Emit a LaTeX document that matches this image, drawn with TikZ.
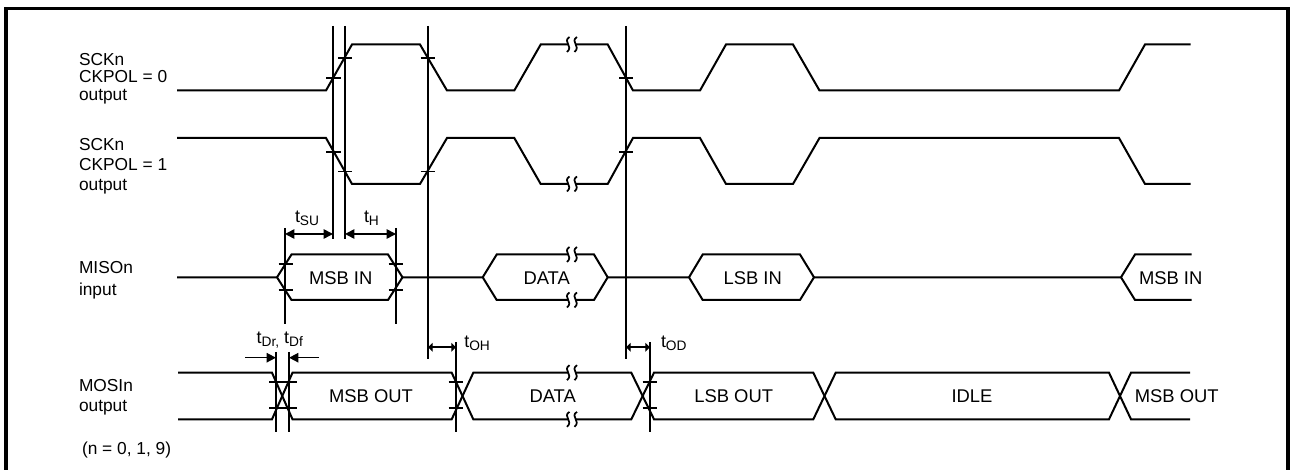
\documentclass[tikz,border=0pt]{standalone}
\usepackage{fontspec}
\setmainfont{Liberation Sans}
\usetikzlibrary{arrows.meta}
\newcommand{\tname}[1]{t\raisebox{-.3ex}{\fontsize{10.3}{11}\selectfont #1}}

\begin{document}
\begin{tikzpicture}[
      x=.75pt,y=-.75pt,
      every node/.style={inner sep=0pt,outer sep=0pt},
      siglabel/.style={font=\fontsize{13}{15}\selectfont,anchor=base west},
      buslabel/.style={font=\fontsize{13.8}{15}\selectfont,anchor=base},
      timelabel/.style={font=\fontsize{13.4}{15}\selectfont,anchor=base west},
      frameln/.style={line width=2.3pt,miter limit=10},
      sigln/.style={line width=1.5pt,line join=miter},
      refln/.style={line width=1.5pt},
      tickln/.style={line width=1.3pt},
      dimbig/.style={{Stealth[length=7pt,width=7pt,inset=0pt]}-{Stealth[length=7pt,width=7pt,inset=0pt]},line width=1.2pt},
      dimsmall/.style={{Stealth[length=3.5pt,width=6.5pt,inset=0pt]}-{Stealth[length=3.5pt,width=6.5pt,inset=0pt]},line width=1.2pt},
      dimin/.style={-{Stealth[length=7pt,width=7pt,inset=0pt]},line width=1.2pt},
      wavebreak/.pic={
        \fill[white] (-3.6,-6) rectangle (3.2,6);
        \draw[line width=1.3pt] (-2.5,-7.5) .. controls (-10,-2.5) and (2,1.5) .. (-5,7.5);
        \draw[line width=1.3pt] (5,-7.5) .. controls (-2.5,-2.5) and (9.5,1.5) .. (2.5,7.5);
      },
    ]
    \useasboundingbox (0,0) rectangle (1290,470);

    % Outer frame, open at the bottom
    \draw[frameln] (6,472) -- (6,8.5) -- (1288,8.5) -- (1288,472);

    % SCKn, CKPOL = 0
    \node[siglabel] (sck0a) at (79,66) {SCKn};
    \node[siglabel] (sck0b) at (79,83) {CKPOL = 0};
    \node[siglabel] (sck0c) at (79,101) {output};
    \draw[sigln] (177,90.5) -- (326,90.5) -- (352,44.5) -- (420,44.5) -- (447,90.5)
      -- (514.3,90.5) -- (540.7,44.5) -- (607.7,44.5) -- (633,90.5) -- (700,90.5)
      -- (726,44.5) -- (793,44.5) -- (819.5,90.5) -- (1119,90.5) -- (1145,44.5) -- (1190.7,44.5);
    \pic at (572,44.5) {wavebreak};

    % SCKn, CKPOL = 1
    \node[siglabel] (sck1a) at (79,150.5) {SCKn};
    \node[siglabel] (sck1b) at (79,170.5) {CKPOL = 1};
    \node[siglabel] (sck1c) at (79,191) {output};
    \draw[sigln] (177,138) -- (326,138) -- (352,184) -- (420,184) -- (447,138)
      -- (514.3,138) -- (540.7,184) -- (607.7,184) -- (633,138) -- (700,138)
      -- (726,184) -- (793,184) -- (819.5,138) -- (1119,138) -- (1145,184) -- (1190.7,184);
    \pic at (572,184) {wavebreak};

    % MISOn
    \node[siglabel] (misoa) at (79,274) {MISOn};
    \node[siglabel] (misob) at (79,295.5) {input};
    \draw[sigln] (177,277.3) -- (277,277.3) -- (291.5,254.5) -- (388,254.5) -- (402.5,277.3)
      -- (388,300) -- (291.5,300) -- (277,277.3);
    \draw[sigln] (402.5,277.3) -- (482.7,277.3) -- (496.7,254.5) -- (594,254.5) -- (607.7,277.3)
      -- (594,300) -- (496.7,300) -- (482.7,277.3);
    \draw[sigln] (607.7,277.3) -- (689,277.3) -- (702.7,254.5) -- (800,254.5) -- (814,277.3)
      -- (800,300) -- (702.7,300) -- (689,277.3);
    \draw[sigln] (814,277.3) -- (1121,277.3) -- (1135,254.5) -- (1191.7,254.5)
      (1121,277.3) -- (1135,300) -- (1191.7,300);
    \pic at (572,254.5) {wavebreak};
    \pic at (572,300) {wavebreak};
    \node[buslabel] (misomsb) at (340.7,285) {MSB IN};
    \node[buslabel] (misodata) at (546.7,285) {DATA};
    \node[buslabel] (misolsb) at (752.7,285) {LSB IN};
    \node[buslabel] (misonext) at (1170.7,285) {MSB IN};

    % MOSIn
    \node[siglabel] (mosia) at (79,391.5) {MOSIn};
    \node[siglabel] (mosib) at (79,411.5) {output};
    \draw[sigln] (178,372.7) -- (272,372.7) -- (292.5,419.3) -- (451.7,419.3) -- (473.3,372.7)
      -- (631.3,372.7) -- (654,419.3) -- (813.3,419.3) -- (835.7,372.7) -- (1109,372.7)
      -- (1131,419.3) -- (1190,419.3);
    \draw[sigln] (178,419.3) -- (272,419.3) -- (292.5,372.7) -- (451.7,372.7) -- (473.3,419.3)
      -- (631.3,419.3) -- (654,372.7) -- (813.3,372.7) -- (835.7,419.3) -- (1109,419.3)
      -- (1131,372.7) -- (1190,372.7);
    \pic at (572,372.7) {wavebreak};
    \pic at (572,419.3) {wavebreak};
    \node[buslabel] (mosimsb) at (371,402.7) {MSB OUT};
    \node[buslabel] (mosidata) at (552.7,402.7) {DATA};
    \node[buslabel] (mosilsb) at (733.7,402.7) {LSB OUT};
    \node[buslabel] (mosiidle) at (972,402.7) {IDLE};
    \node[buslabel] (mosinext) at (1176.7,402.7) {MSB OUT};
    \node[siglabel] (nlist) at (82,455) {(n = 0, 1, 9)};

    % Reference lines
    \draw[refln] (333,26) -- (333,239);
    \draw[refln] (345,26) -- (345,239);
    \draw[refln] (428,26) -- (428,359);
    \draw[refln] (626,26) -- (626,359);
    \draw[refln] (285,228) -- (285,324);
    \draw[refln] (396,228) -- (396,324);
    \draw[refln] (276,352) -- (276,432);
    \draw[refln] (289,352) -- (289,432);
    \draw[refln] (456,342) -- (456,432);
    \draw[refln] (650,342) -- (650,432);

    % Crossing marks
    \draw[tickln] (326,78) -- (341,78) (338,58) -- (352,58) (420.7,58) -- (435,58) (619,78) -- (633,78);
    \draw[tickln] (326,152) -- (341,152) (338,171.5) -- (352,171.5) (420.7,171.5) -- (435,171.5) (619,152) -- (633,152);
    \draw[tickln] (278.5,264.3) -- (292.5,264.3) (278.5,290) -- (292.5,290) (388.5,264.3) -- (402.5,264.3) (388.5,290) -- (402.5,290);
    \draw[tickln] (269,382) -- (283,382) (269,408.3) -- (283,408.3) (282,382) -- (296.7,382) (282,408.3) -- (296.7,408.3);
    \draw[tickln] (448.7,382) -- (463,382) (448.7,408.3) -- (463,408.3) (642.7,382) -- (657,382) (642.7,408.3) -- (657,408.3);

    % Timing arrows
    \coordinate (suL) at (285,234);
    \coordinate (suR) at (333,234);
    \coordinate (hL) at (345,234);
    \coordinate (hR) at (396,234);
    \coordinate (drL) at (245,357.7);
    \coordinate (drR) at (276,357.7);
    \coordinate (dfL) at (289,357.7);
    \coordinate (dfR) at (319,357.7);
    \coordinate (ohL) at (428,347.3);
    \coordinate (ohR) at (456,347.3);
    \coordinate (odL) at (626,347.3);
    \coordinate (odR) at (650,347.3);
    \draw[dimbig] (suL) -- (suR);
    \draw[dimbig] (hL) -- (hR);
    \draw[dimin] (drL) -- (drR);
    \draw[dimin] (dfR) -- (dfL);
    \draw[dimsmall] (ohL) -- (ohR);
    \draw[dimsmall] (odL) -- (odR);

    % Timing names
    \node[timelabel] (tsu) at (295,222.7) {\tname{SU}};
    \node[timelabel] (th) at (364,222.7) {\tname{H}};
    \node[timelabel] (tdr) at (256.7,344) {\tname{Dr,} \tname{Df}};
    \node[timelabel] (toh) at (464.3,348) {\tname{OH}};
    \node[timelabel] (tod) at (661,348) {\tname{OD}};
\end{tikzpicture}
\end{document}
